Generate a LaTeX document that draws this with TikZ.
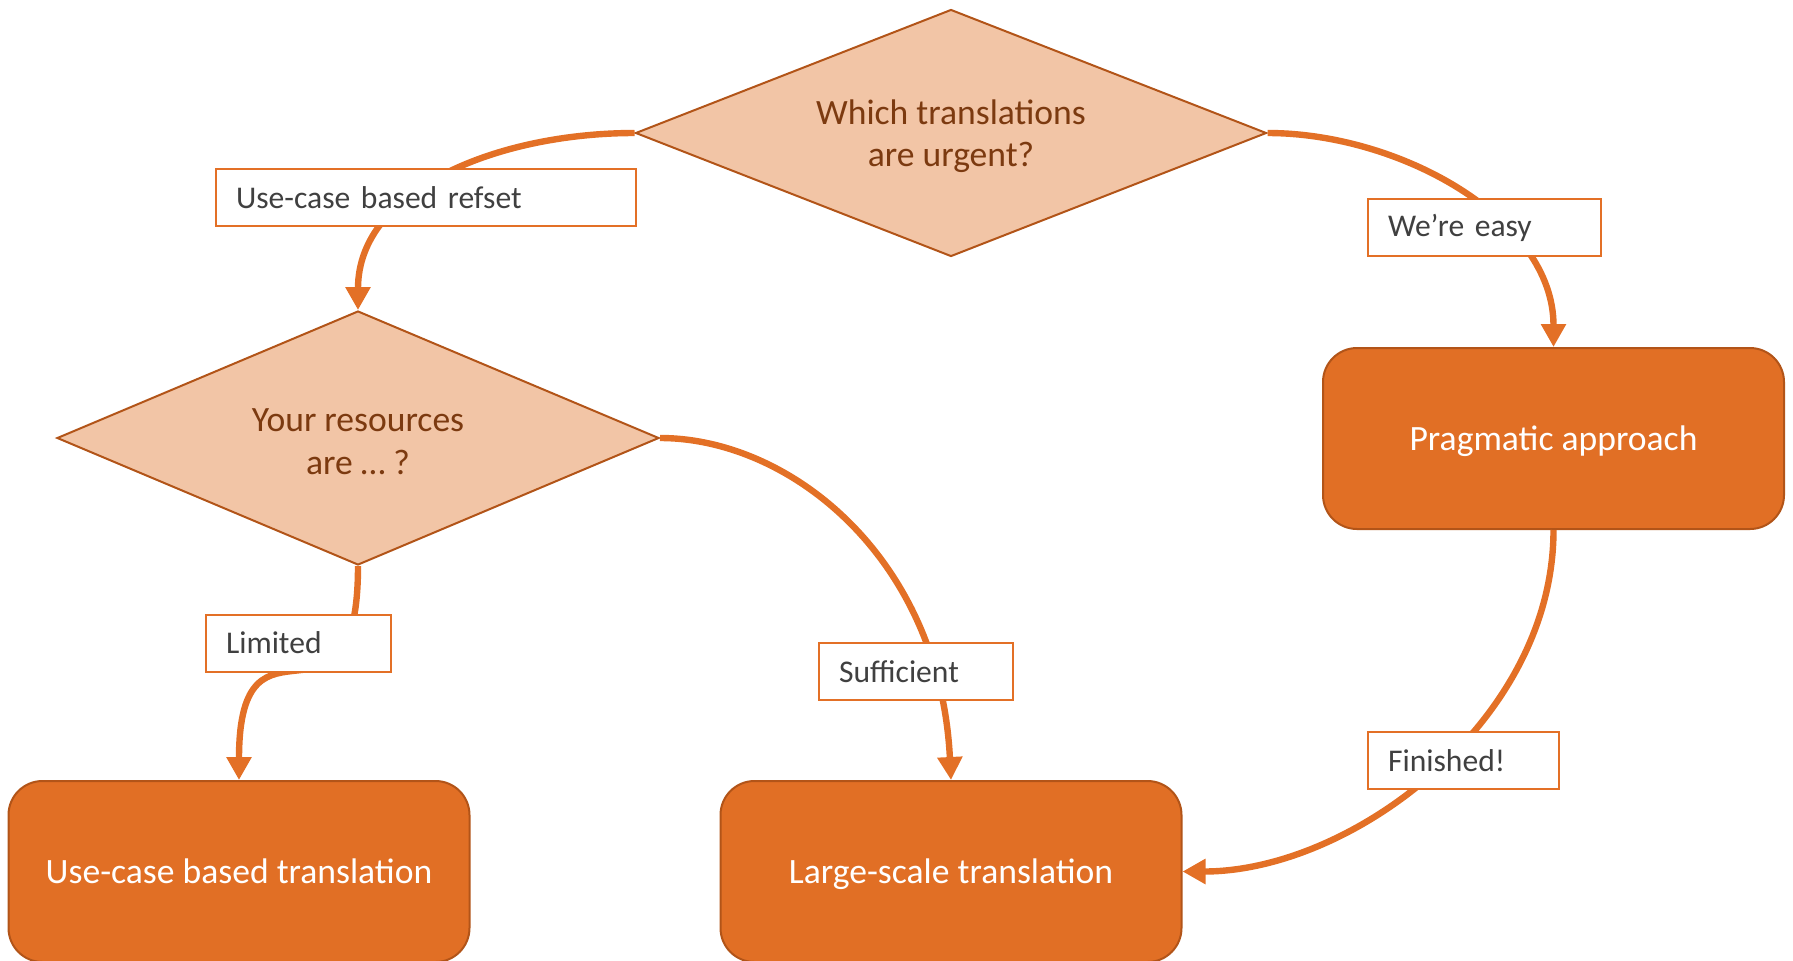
\documentclass[tikz,border=0pt]{standalone}
\usepackage{fontspec}
\setmainfont{Carlito}
\usetikzlibrary{shapes.geometric,arrows.meta}

\definecolor{boxfill}{RGB}{225,111,37}
\definecolor{boxline}{RGB}{178,84,24}
\definecolor{decfill}{RGB}{242,197,166}
\definecolor{decline}{RGB}{178,84,24}
\definecolor{dectext}{RGB}{124,58,16}
\definecolor{conn}{RGB}{227,112,38}
\definecolor{lbltext}{RGB}{64,64,64}

% taller first line, so the two text lines sit a little lower in the diamond
\newcommand{\firststrut}{\rule{0pt}{15.5pt}}

\tikzset{
  decision/.style={diamond, draw=decline, line width=1pt, fill=decfill,
    inner sep=0pt, align=center, text=dectext,
    font=\fontsize{17.8}{21.4}\selectfont},
  outcome/.style={rectangle, rounded corners=17pt, draw=boxline, line width=1pt,
    fill=boxfill, text=white, minimum width=230.5pt, minimum height=90.5pt,
    text depth=0pt, font=\fontsize{17.8}{21.4}\selectfont},
  answer/.style={rectangle, draw=conn, line width=1pt, fill=white,
    text=lbltext, align=left, inner xsep=10pt, inner ysep=0pt,
    minimum height=28.5pt, font=\fontsize{15.8}{19}\selectfont},
  flow/.style={draw=conn, line width=3.2pt,
    -{Triangle[width=12pt,length=11.5pt]}},
}

\begin{document}
\begin{tikzpicture}[x=0.5pt,y=-0.5pt]
\useasboundingbox (0,0) rectangle (1793,960);

% decisions
\node[decision, aspect=2.55, minimum width=315.5pt, minimum height=123.5pt] (urgent)
  at (951,133) {\firststrut Which translations\\are urgent?};
\node[decision, aspect=2.37, minimum width=301pt, minimum height=127pt] (resources)
  at (358,438) {\firststrut Your resources\\are … ?};

% outcomes
\node[outcome] (pragmatic) at (1553.5,438.5) {Pragmatic approach};
\node[outcome] (usecase) at (239,871.5) {Use-case based translation};
\node[outcome] (largescale) at (951,871.5) {Large-scale translation};

% connectors
\draw[flow] (urgent.west) .. controls +(-136,0) and +(0,-121) .. (resources.north);
\draw[flow] (urgent.east) .. controls +(133,0) and +(0,-128) .. (pragmatic.north);
\draw[flow] (resources.east) .. controls +(131,0) and +(-11,-221) .. (largescale.north);
\draw[flow] (resources.south) .. controls +(0,190) and +(0,-190) .. (usecase.north);
\draw[flow] (pragmatic.south) .. controls +(0,191) and +(169,0) .. (largescale.east);

% answer labels
\node[answer, text width=190pt] (refset) at (426,197.5) {Use-case based refset};
\node[answer, text width=96.5pt] (easy) at (1484.5,227.5) {We’re easy};
\node[answer, text width=72.5pt] (limited) at (298.5,643) {Limited};
\node[answer, text width=77pt] (sufficient) at (916,671.5) {Sufficient};
\node[answer, text width=75.5pt] (finished) at (1463.5,760.5) {Finished!};
\end{tikzpicture}
\end{document}
